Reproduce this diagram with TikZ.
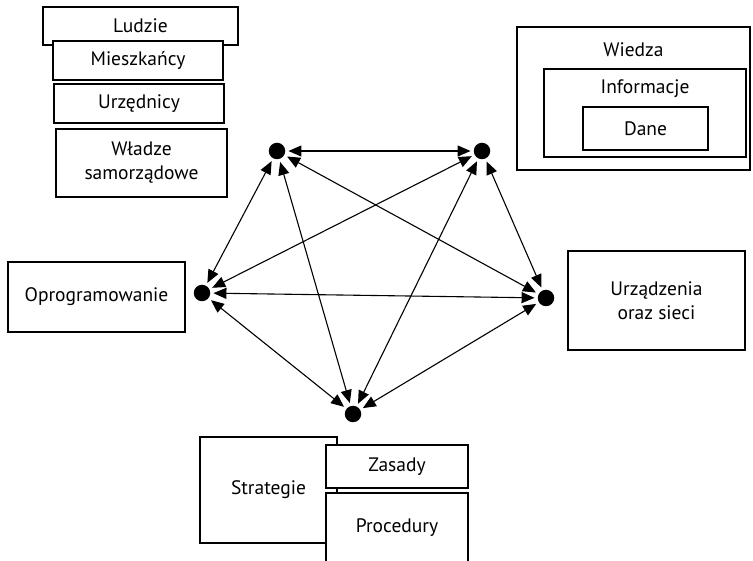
\documentclass[tikz,border=0pt]{standalone}
\usepackage{fontspec}
\setmainfont{PT Sans}
\usetikzlibrary{arrows.meta}

\begin{document}
\begin{tikzpicture}
[
	x=1pt, y=-1pt,
	box/.style={draw,fill=white,line width=1.2pt,inner sep=0pt,align=center,
		font=\fontsize{19.5}{24}\selectfont},
	dot/.style={circle,fill,inner sep=0pt,minimum size=16.5pt},
	conn/.style={{Triangle[length=13pt,width=11pt]}-{Triangle[length=13pt,width=11pt]},
		line width=1.1pt,shorten <=3pt,shorten >=3pt}
]

	\useasboundingbox (0,0) rectangle (753,561);
	\clip (0,0) rectangle (753,561);

	% people
	\node[box,minimum width=195,minimum height=38] (ludzie) at (140.5,26) {Ludzie};
	\node[box,minimum width=170,minimum height=39] (mieszkancy) at (138,60.5) {Mieszkańcy};
	\node[box,minimum width=170,minimum height=39] (urzednicy) at (139,103.5) {Urzędnicy};
	\node[box,minimum width=171,minimum height=68] (wladze) at (141.5,163) {Władze\\samorządowe};

	% knowledge
	\node[box,minimum width=233,minimum height=143,
		label={[anchor=center,yshift=-23pt,font=\fontsize{19.5}{24}\selectfont]north:Wiedza}]
		(wiedza) at (633.5,98.5) {};
	\node[box,minimum width=202,minimum height=88,
		label={[anchor=center,yshift=-20pt,font=\fontsize{19.5}{24}\selectfont]north:Informacje}]
		(informacje) at (645,113) {};
	\node[box,minimum width=125,minimum height=43] (dane) at (645.5,128.5) {Dane};

	% software and hardware
	\node[box,minimum width=177,minimum height=70] (oprog) at (96.5,297) {Oprogramowanie};
	\node[box,minimum width=177,minimum height=99] (urzadzenia) at (656.5,300.5) {Urządzenia\\oraz sieci};

	% rules
	\node[box,minimum width=137,minimum height=106] (strategie) at (268.5,490) {Strategie};
	\node[box,minimum width=142,minimum height=43] (zasady) at (397,466.5) {Zasady};
	\node[box,minimum width=142,minimum height=70] (procedury) at (397,528) {Procedury};

	% points
	\node[dot] (tl) at (277,151) {};
	\node[dot] (tr) at (482,151) {};
	\node[dot] (l) at (202,293) {};
	\node[dot] (r) at (546,298) {};
	\node[dot] (b) at (353,414) {};

	% links
	\foreach \a/\b in {tl/tr,tl/l,tl/b,tl/r,tr/l,tr/b,tr/r,l/r,l/b,b/r} {
		\draw[conn] (\a) -- (\b);
	}

\end{tikzpicture}
\end{document}
